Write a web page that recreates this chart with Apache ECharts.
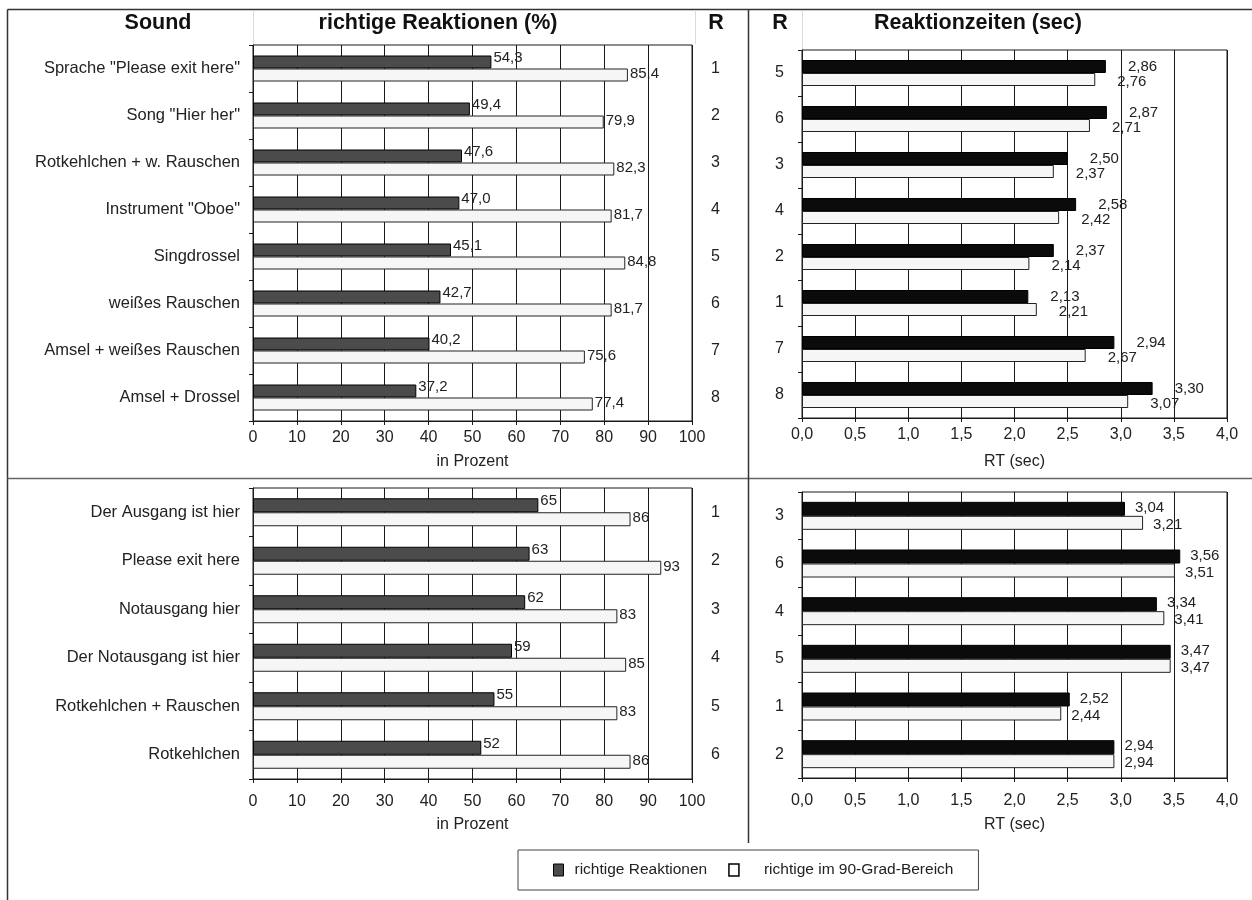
<!DOCTYPE html>
<html>
<head>
<meta charset="utf-8">
<script src="https://cdn.jsdelivr.net/npm/echarts@6/dist/echarts.min.js"></script>
<style>
  html, body { margin: 0; padding: 0; background: #fff; }
  #chart { width: 1252px; height: 900px; }
</style>
</head>
<body>
<div id="chart"></div>
<script>
// Upper block: sounds
const soundsA = ['Sprache "Please exit here"', 'Song "Hier her"', 'Rotkehlchen + w. Rauschen', 'Instrument "Oboe"',
                 'Singdrossel', 'weißes Rauschen', 'Amsel + weißes Rauschen', 'Amsel + Drossel'];
const correctA   = [54.3, 49.4, 47.6, 47.0, 45.1, 42.7, 40.2, 37.2];
const correct90A = [85.4, 79.9, 82.3, 81.7, 84.8, 81.7, 75.6, 77.4];
const rankA      = ['1', '2', '3', '4', '5', '6', '7', '8'];
const rtRankA    = ['5', '6', '3', '4', '2', '1', '7', '8'];
const rtA        = [2.86, 2.87, 2.50, 2.58, 2.37, 2.13, 2.94, 3.30];
const rt90A      = [2.76, 2.71, 2.37, 2.42, 2.14, 2.21, 2.67, 3.07];

// Lower block: spoken exit signals
const soundsB = ['Der Ausgang ist hier', 'Please exit here', 'Notausgang hier', 'Der Notausgang ist hier',
                 'Rotkehlchen + Rauschen', 'Rotkehlchen'];
const correctB   = [65, 63, 62, 59, 55, 52];
const correct90B = [86, 93, 83, 85, 83, 86];
const rankB      = ['1', '2', '3', '4', '5', '6'];
const rtRankB    = ['3', '6', '4', '5', '1', '2'];
const rtB        = [3.04, 3.56, 3.34, 3.47, 2.52, 2.94];
const rt90B      = [3.21, 3.51, 3.41, 3.47, 2.44, 2.94];

// Axis ranges and text
const pctRange = { min: 0, max: 100, interval: 10 };
const rtRange  = { min: 0, max: 4, interval: 0.5 };
const SER_CORRECT = 'richtige Reaktionen';
const SER_90 = 'richtige im 90-Grad-Bereich';

const FONT = '"Liberation Sans", Arial, sans-serif';
const INK = '#1a1a1a';
const TXT = '#222';
const deDec = (v, d) => Number(v).toFixed(d).replace('.', ',');

function makeGrid(left, top, width, height) {
  return { left, top, width, height, show: true, borderColor: INK, borderWidth: 1,
           backgroundColor: 'transparent', containLabel: false, outerBoundsMode: 'none' };
}

function valueAxis(gridIndex, range, digits, name, margin, nameGap) {
  return {
    type: 'value', gridIndex, min: range.min, max: range.max, interval: range.interval,
    position: 'bottom',
    axisLine: { show: true, lineStyle: { color: INK, width: 1 } },
    axisTick: { show: true, length: 4, lineStyle: { color: INK } },
    axisLabel: { color: TXT, fontSize: 16, fontFamily: FONT, margin,
                 formatter: v => digits ? deDec(v, digits) : String(v) },
    splitLine: { show: true, lineStyle: { color: INK, width: 1 } },
    name, nameLocation: 'middle', nameGap,
    nameTextStyle: { color: TXT, fontSize: 16, fontFamily: FONT }
  };
}

function catAxis(gridIndex, data, position, margin, withLine, fontSize) {
  return {
    type: 'category', gridIndex, data, inverse: true, position,
    axisLine: { show: withLine, lineStyle: { color: INK, width: 1 } },
    axisTick: { show: withLine, length: 4, lineStyle: { color: INK } },
    axisLabel: { color: TXT, fontSize, fontFamily: FONT, margin,
                 align: position === 'right' ? 'left' : 'right' },
    splitLine: { show: false }
  };
}

function barPair(xi, yi, darkVals, lightVals, darkFill, digits, barWidth, dist, darkOff, lightOff) {
  const lbl = (off) => ({
    show: true, position: 'right', distance: dist, offset: off,
    color: TXT, fontSize: 15, fontFamily: FONT,
    formatter: p => deDec(p.value, digits)
  });
  return [
    { name: SER_CORRECT, type: 'bar', xAxisIndex: xi, yAxisIndex: yi, data: darkVals,
      barWidth, barGap: '0%',
      itemStyle: { color: darkFill, borderColor: '#000', borderWidth: 1 },
      label: lbl(darkOff), emphasis: { disabled: true }, animation: false },
    { name: SER_90, type: 'bar', xAxisIndex: xi, yAxisIndex: yi, data: lightVals,
      barWidth, barGap: '0%',
      itemStyle: { color: '#f6f6f6', borderColor: '#222', borderWidth: 1 },
      label: lbl(lightOff), emphasis: { disabled: true }, animation: false }
  ];
}

const line = (x1, y1, x2, y2, color, w) => ({
  type: 'line', silent: true, z: 100,
  shape: { x1, y1, x2, y2 }, style: { stroke: color, lineWidth: w || 1 }
});
const header = (text, x) => ({
  type: 'text', silent: true, z: 100, x, y: 23,
  style: { text, x: 0, y: 0, align: 'center', verticalAlign: 'middle',
           font: 'bold 21.5px "Liberation Sans", Arial, sans-serif', fill: '#111' }
});

const option = {
  backgroundColor: '#fff',
  animation: false,
  textStyle: { fontFamily: FONT },
  grid: [
    makeGrid(253, 45, 439, 376),   // upper left: percentages
    makeGrid(802, 50, 425, 368),   // upper right: reaction times
    makeGrid(253, 488, 439, 291),  // lower left
    makeGrid(802, 492, 425, 286)   // lower right
  ],
  xAxis: [
    valueAxis(0, pctRange, 0, 'in Prozent', 9, 33),
    valueAxis(1, rtRange, 1, 'RT (sec)', 9, 36),
    valueAxis(2, pctRange, 0, 'in Prozent', 15, 38),
    valueAxis(3, rtRange, 1, 'RT (sec)', 15, 39)
  ],
  yAxis: [
    catAxis(0, soundsA, 'left', 13, true, 16.5),
    catAxis(0, rankA, 'right', 19, false, 16),
    catAxis(1, rtRankA, 'left', 18, true, 16),
    catAxis(2, soundsB, 'left', 13, true, 16.5),
    catAxis(2, rankB, 'right', 19, false, 16),
    catAxis(3, rtRankB, 'left', 18, true, 16)
  ],
  series: [
    ...barPair(0, 0, correctA, correct90A, '#4b4b4b', 1, 13, 2, [0, -4], [0, -1]),
    ...barPair(1, 2, rtA, rt90A, '#0b0b0b', 2, 13, 22, [0, 0], [0, 2]),
    ...barPair(2, 3, correctB, correct90B, '#4b4b4b', 0, 14, 2, [0, -4], [0, -1]),
    ...barPair(3, 5, rtB, rt90B, '#0b0b0b', 2, 14, 10, [0, -1], [0, 2])
  ],
  legend: {
    left: 518, top: 850,
    orient: 'horizontal',
    padding: [12, 25, 12, 35],
    itemGap: 21, itemWidth: 10, itemHeight: 12,
    borderColor: '#444', borderWidth: 1,
    selectedMode: false,
    icon: 'rect',
    textStyle: { color: TXT, fontSize: 15.5, fontFamily: FONT, padding: [0, 0, 0, 6] },
    data: [
      { name: SER_CORRECT, itemStyle: { color: '#4b4b4b', borderColor: '#000', borderWidth: 1 } },
      { name: SER_90, itemStyle: { color: '#fff', borderColor: '#000', borderWidth: 1.5 },
        textStyle: { padding: [0, 0, 0, 20] } }
    ]
  },
  graphic: [
    // frame and panel dividers
    line(7.5, 9.5, 1252, 9.5, '#333', 1.5),
    line(7.5, 9.5, 7.5, 900, '#333', 1.5),
    line(7.5, 478.5, 1252, 478.5, '#666', 1.5),
    line(748.5, 9.5, 748.5, 843, '#333', 1.5),
    // faint header cell rules
    line(253.5, 10, 253.5, 44, '#dcdcdc', 1),
    line(695.5, 10, 695.5, 44, '#dcdcdc', 1),
    line(802.5, 10, 802.5, 49, '#dcdcdc', 1),
    // column headers
    header('Sound', 158),
    header('richtige Reaktionen (%)', 438),
    header('R', 716),
    header('R', 780),
    header('Reaktionzeiten (sec)', 978)
  ]
};

const chart = echarts.init(document.getElementById('chart'), null, { renderer: 'canvas' });
chart.setOption(option);
</script>
</body>
</html>
